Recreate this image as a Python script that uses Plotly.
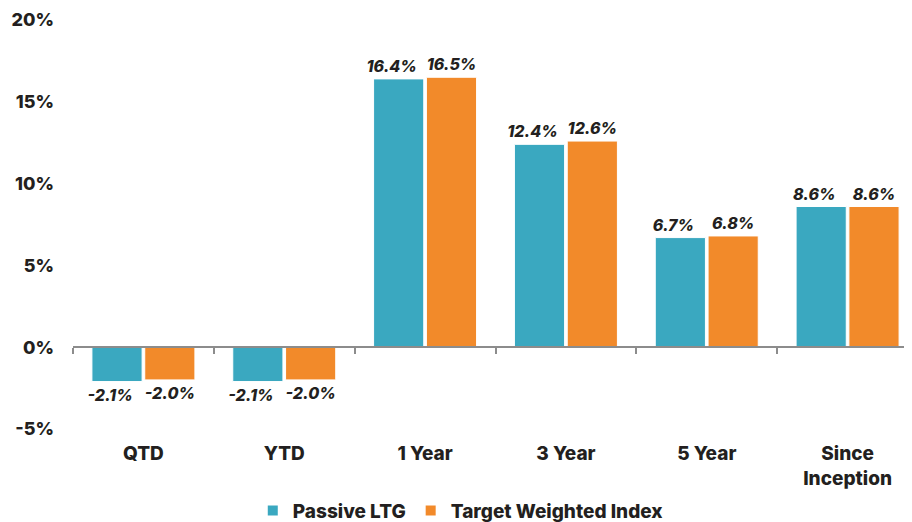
import plotly.graph_objects as go

categories = ["QTD", "YTD", "1 Year", "3 Year", "5 Year", "Since<br>Inception"]
passive_ltg = [-2.1, -2.1, 16.4, 12.4, 6.7, 8.6]
target_weighted = [-2.0, -2.0, 16.5, 12.6, 6.8, 8.6]
y_ticks = [-5, 0, 5, 10, 15, 20]
y_tick_labels = ["-5%", "0%", "5%", "10%", "15%", "20%"]

TEAL = "#3AA8C0"
ORANGE = "#F28A2A"
DARK = "#231F20"
FONT = "Inter"
NBSP = "\u00a0"

fig = go.Figure()
for name, vals, col, pad in [("Passive LTG", passive_ltg, TEAL, NBSP * 4),
                             ("Target Weighted Index", target_weighted, ORANGE, "")]:
    fig.add_trace(go.Bar(
        name=name, x=categories, y=vals,
        marker=dict(color=col, line=dict(color="white", width=1)),
        text=[f"{v:.1f}%{pad}" for v in vals],
        textposition="outside",
        constraintext="none",
        textfont=dict(family=FONT, size=16, color=DARK, weight=800, style="italic"),
        cliponaxis=False,
    ))

fig.update_layout(
    width=910, height=514,
    margin=dict(l=65, r=0, t=12, b=93, autoexpand=False),
    paper_bgcolor="white", plot_bgcolor="white",
    barmode="group", bargap=0.25, bargroupgap=0.05,
    font=dict(family=FONT, color=DARK),
    legend=dict(orientation="h", x=0.497, xref="container", xanchor="center",
                y=0.022, yref="container", yanchor="middle",
                font=dict(family=FONT, size=19, color=DARK, weight=800),
                itemsizing="constant", traceorder="normal"),
    xaxis=dict(
        type="category", anchor="free", position=0.2, automargin=False,
        showline=True, linecolor="#8C8C8C", linewidth=2,
        ticks="outside", tickson="boundaries", ticklen=6, tickcolor="#8C8C8C", tickwidth=2,
        tickfont=dict(family=FONT, size=19, color=DARK, weight=800),
        ticklabelstandoff=89,
        showgrid=False, zeroline=False,
    ),
    yaxis=dict(
        range=[-5, 20], tickvals=y_ticks, ticktext=y_tick_labels, automargin=False,
        tickfont=dict(family=FONT, size=18, color=DARK, weight=800),
        ticks="", ticklabelstandoff=18,
        showgrid=False, zeroline=False, showline=False,
    ),
)

fig.write_html("out.html")
